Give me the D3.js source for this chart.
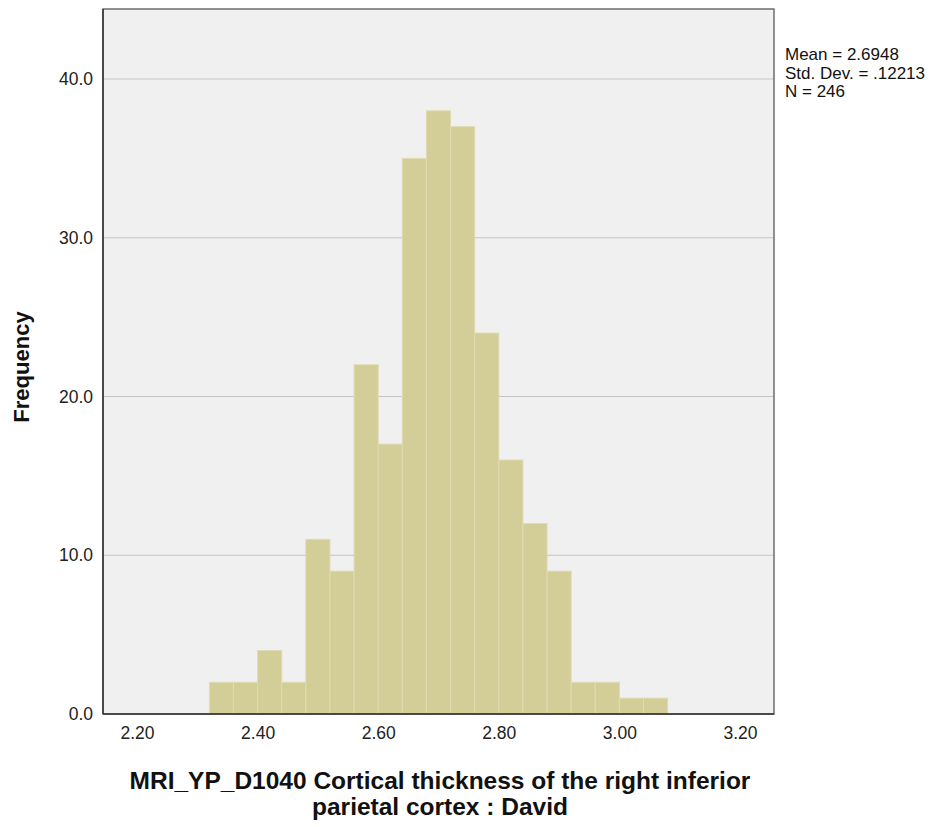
<!DOCTYPE html>
<html><head><meta charset="utf-8">
<script src="https://cdn.jsdelivr.net/npm/d3@7"></script>
<style>body{margin:0;background:#fff;} svg{display:block;font-family:"Liberation Sans",Arial,sans-serif;}</style>
</head><body>
<script>
const binStart = 2.32;
const binWidth = 0.04;
const counts = [2, 2, 4, 2, 11, 9, 22, 17, 35, 38, 37, 24, 16, 12, 9, 2, 2, 1, 1];
const xTicks = [2.2, 2.4, 2.6, 2.8, 3.0, 3.2];
const yTicks = [0, 10, 20, 30, 40];
const statLines = ["Mean = 2.6948", "Std. Dev. = .12213", "N = 246"];
const xTitle = ["MRI_YP_D1040 Cortical thickness of the right inferior", "parietal cortex : David"];
const yTitle = "Frequency";

const W = 938, H = 827;
const L = 103, R = 774, T = 9, B = 714;
const svg = d3.select("body").append("svg").attr("width", W).attr("height", H);

const x = d3.scaleLinear().domain([2.2, 3.2]).range([137, 740]);
const y = d3.scaleLinear().domain([0, 40]).range([B, 79]);

svg.append("rect").attr("x", L).attr("y", T).attr("width", R - L).attr("height", B - T).attr("fill", "#f0f0f0");

// grid
svg.append("g").selectAll("line").data(yTicks.filter(d => d > 0)).join("line")
  .attr("x1", L).attr("x2", R).attr("y1", d => y(d)).attr("y2", d => y(d))
  .attr("stroke", "#c4c4c4").attr("stroke-width", 1.2);

// bars
const bins = counts.map((c, i) => ({x0: binStart + i * binWidth, x1: binStart + (i + 1) * binWidth, c}));
svg.append("g").selectAll("rect").data(bins).join("rect")
  .attr("x", d => x(d.x0)).attr("width", d => x(d.x1) - x(d.x0))
  .attr("y", d => y(d.c)).attr("height", d => y(0) - y(d.c))
  .attr("fill", "#d3ce97").attr("stroke", "#dfdbb2").attr("stroke-width", 1);

// frame
svg.append("rect").attr("x", L).attr("y", T).attr("width", R - L).attr("height", B - T)
  .attr("fill", "none").attr("stroke", "#6e6e6e").attr("stroke-width", 1.5);
svg.append("line").attr("x1", L).attr("x2", L).attr("y1", T).attr("y2", B).attr("stroke", "#333").attr("stroke-width", 1.5);
svg.append("line").attr("x1", L).attr("x2", R).attr("y1", B).attr("y2", B).attr("stroke", "#333").attr("stroke-width", 1.5);

// axes (labels only)
const xAxis = d3.axisBottom(x).tickValues(xTicks).tickFormat(d3.format(".2f")).tickSize(0).tickPadding(13);
const gx = svg.append("g").attr("transform", `translate(0,${B})`).call(xAxis);
gx.select(".domain").remove();
gx.selectAll("text").attr("font-size", 17.5).attr("fill", "#222").attr("font-family", "Liberation Sans, Arial, sans-serif");

const yAxis = d3.axisLeft(y).tickValues(yTicks).tickFormat(d3.format(".1f")).tickSize(0).tickPadding(10);
const gy = svg.append("g").attr("transform", `translate(${L},0)`).call(yAxis);
gy.select(".domain").remove();
gy.selectAll("text").attr("font-size", 17.5).attr("fill", "#222").attr("font-family", "Liberation Sans, Arial, sans-serif");

// stats
svg.append("g").selectAll("text").data(statLines).join("text")
  .attr("x", 785).attr("y", (d, i) => 60 + i * 18.5)
  .attr("font-size", 17).attr("fill", "#111").text(d => d);

// titles
svg.append("g").selectAll("text").data(xTitle).join("text")
  .attr("x", 440).attr("y", (d, i) => 789 + i * 25.5)
  .attr("text-anchor", "middle").attr("font-size", 24.5).attr("font-weight", "bold").attr("fill", "#111")
  .text(d => d);
svg.append("text").attr("transform", `translate(29,367) rotate(-90)`)
  .attr("text-anchor", "middle").attr("font-size", 22).attr("font-weight", "bold").attr("fill", "#111")
  .text(yTitle);
</script>
</body></html>
